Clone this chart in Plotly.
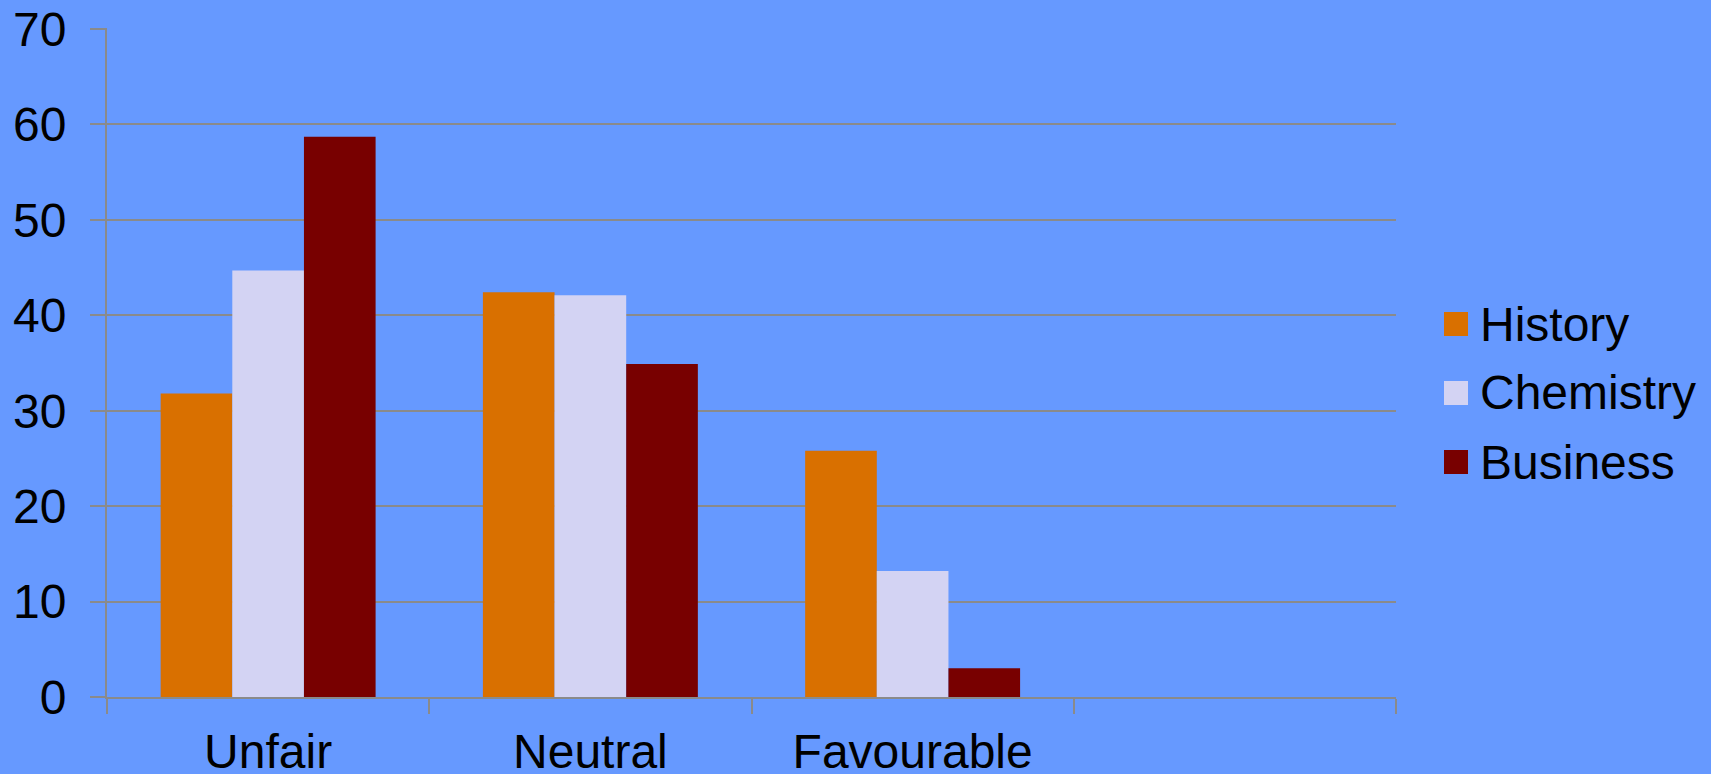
import plotly.graph_objects as go

# Survey responses by subject (percent of respondents)
categories = ["Unfair", "Neutral", "Favourable"]
history = [31.8, 42.4, 25.8]
chemistry = [44.7, 42.1, 13.2]
business = [58.7, 34.9, 3.0]

series_names = ["History", "Chemistry", "Business"]
series_values = [history, chemistry, business]
series_colors = ["#D97000", "#D3D3F3", "#780000"]

y_ticks = [0, 10, 20, 30, 40, 50, 60, 70]

BG = "#6699FF"
GRID = "#8A8A8A"
FONT = "Liberation Sans, Arial, sans-serif"
FS = 48
LW = 2

W, H = 1711, 774
L, R, T, B = 107, 315, 28, 77
plot_w = W - L - R
plot_h = H - T - B

fig = go.Figure()
for name, vals, col in zip(series_names, series_values, series_colors):
    fig.add_trace(go.Bar(
        name=name, x=categories, y=vals,
        marker=dict(color=col, line=dict(width=0)),
        showlegend=False,
    ))

# Legend drawn by hand so the swatches can be larger than Plotly's fixed size
sw = 24
swatch_left = 1444
text_left = 1478
row_centers_px = [324, 393, 462]
for name, col, yc_px in zip(series_names, series_colors, row_centers_px):
    fig.add_shape(type="rect", xref="paper", yref="paper",
                  x0=(swatch_left - L) / plot_w, x1=(swatch_left + sw - L) / plot_w,
                  y0=(H - B - yc_px - sw / 2) / plot_h, y1=(H - B - yc_px + sw / 2) / plot_h,
                  line=dict(width=0), fillcolor=col)
    fig.add_annotation(xref="paper", yref="paper",
                       x=(text_left - L) / plot_w, y=(H - B - yc_px) / plot_h,
                       text=name, showarrow=False, xanchor="left", yanchor="middle",
                       font=dict(size=FS, color="black", family=FONT))

fig.update_layout(
    width=W, height=H,
    margin=dict(l=L, r=R, t=T, b=B, autoexpand=False),
    paper_bgcolor=BG, plot_bgcolor=BG,
    barmode="group", bargap=0.333, bargroupgap=0,
    font=dict(family=FONT, size=FS, color="black"),
    showlegend=False,
)

fig.update_xaxes(
    type="category",
    categoryorder="array", categoryarray=categories + [" "],
    range=[-0.5, 3.5],
    tickson="boundaries", ticks="outside", ticklen=15, tickwidth=LW, tickcolor=GRID,
    showline=True, linecolor=GRID, linewidth=LW,
    showgrid=False, zeroline=False, automargin=False,
    tickfont=dict(size=FS, family=FONT, color="black"),
    ticklabelstandoff=11,
)
fig.update_yaxes(
    range=[0, 70.1], tickvals=y_ticks,
    ticks="outside", ticklen=15, tickwidth=LW, tickcolor=GRID,
    showline=True, linecolor=GRID, linewidth=LW,
    showgrid=True, gridcolor=GRID, gridwidth=LW,
    zeroline=False, automargin=False,
    tickfont=dict(size=FS, family=FONT, color="black"),
    ticklabelstandoff=14,
)

fig.write_html("out.html")
